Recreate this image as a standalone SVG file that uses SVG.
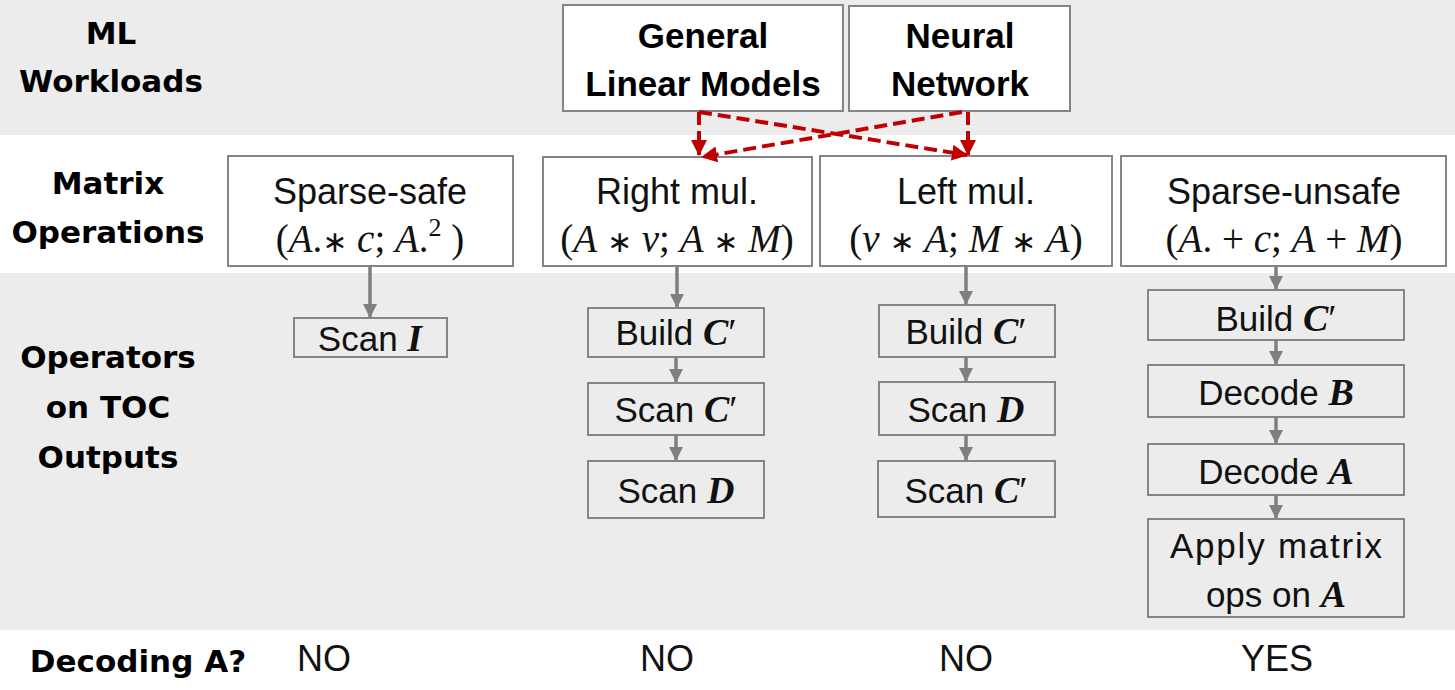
<svg xmlns="http://www.w3.org/2000/svg" width="1455" height="690" viewBox="0 0 1455 690">
<defs>
<marker id="ga" markerUnits="userSpaceOnUse" markerWidth="16" markerHeight="14" refX="13" refY="7" orient="auto"><path d="M0,0 L14,7 L0,14 Z" fill="#7f7f7f"/></marker>
<marker id="ra" markerUnits="userSpaceOnUse" markerWidth="18" markerHeight="18" refX="15" refY="9" orient="auto"><path d="M0,1 L16,9 L0,17 Z" fill="#c00000"/></marker>
</defs>
<style>
.band{fill:#ececec}
.box{fill:#fff;stroke:#858585;stroke-width:2}
.obox{fill:none;stroke:#858585;stroke-width:2}
.lbl{font-family:"DejaVu Sans",sans-serif;font-weight:bold;font-size:31px;fill:#000;text-anchor:middle}
.wl{font-family:"Liberation Sans",Arial,sans-serif;font-weight:bold;font-size:35px;fill:#000;text-anchor:middle}
.t{font-family:"Liberation Sans",Arial,sans-serif;font-size:36px;fill:#111;text-anchor:middle}
.o{font-family:"Liberation Sans",Arial,sans-serif;font-size:35px;fill:#111;text-anchor:middle}
.eq{font-family:"Liberation Serif","Times New Roman",serif;font-size:39px;fill:#111;text-anchor:middle}
.m{font-style:italic}
.mb{font-family:"Liberation Serif","Times New Roman",serif;font-style:italic;font-weight:bold;font-size:38px}
.mr{font-family:"Liberation Serif","Times New Roman",serif;font-size:38px}
.ast{font-family:"DejaVu Sans",sans-serif;font-size:30px}
.ga{stroke:#7f7f7f;stroke-width:3.5;fill:none;marker-end:url(#ga)}
.ra{stroke:#c00000;stroke-width:4;stroke-dasharray:13 6;fill:none;marker-end:url(#ra)}
</style>
<rect class="band" x="0" y="0" width="1455" height="135"/>
<rect class="band" x="0" y="273" width="1455" height="357"/>

<g id="row-labels">
<text class="lbl" x="111" y="44">ML</text>
<text class="lbl" x="111" y="92">Workloads</text>
<text class="lbl" x="108" y="194">Matrix</text>
<text class="lbl" x="108" y="243">Operations</text>
<text class="lbl" x="108" y="368">Operators</text>
<text class="lbl" x="108" y="418">on TOC</text>
<text class="lbl" x="108" y="468">Outputs</text>
<text class="lbl" x="138" y="672">Decoding A?</text>
</g>

<g id="glm">
<rect class="box" x="563" y="5" width="280" height="106"/>
<text class="wl" x="703" y="48">General</text>
<text class="wl" x="703" y="96">Linear Models</text>
</g>
<g id="nn">
<rect class="box" x="849" y="6" width="221" height="105"/>
<text class="wl" x="960" y="48">Neural</text>
<text class="wl" x="960" y="96">Network</text>
</g>

<g id="sparse-safe">
<rect class="box" x="228" y="156" width="285" height="110"/>
<text class="t" x="370" y="204">Sparse-safe</text>
<text class="eq" x="370" y="252">(<tspan class="m">A</tspan>.<tspan class="ast">∗</tspan> <tspan class="m">c</tspan>; <tspan class="m">A</tspan>.<tspan font-size="26" dy="-16">2</tspan><tspan dy="16"> )</tspan></text>
</g>
<g id="right-mul">
<rect class="box" x="543" y="157" width="269" height="109"/>
<text class="t" x="677" y="204">Right mul.</text>
<text class="eq" x="677" y="252">(<tspan class="m">A</tspan> <tspan class="ast">∗</tspan> <tspan class="m">v</tspan>; <tspan class="m">A</tspan> <tspan class="ast">∗</tspan> <tspan class="m">M</tspan>)</text>
</g>
<g id="left-mul">
<rect class="box" x="820" y="156" width="292" height="110"/>
<text class="t" x="966" y="204">Left mul.</text>
<text class="eq" x="966" y="252">(<tspan class="m">v</tspan> <tspan class="ast">∗</tspan> <tspan class="m">A</tspan>;  <tspan class="m">M</tspan> <tspan class="ast">∗</tspan> <tspan class="m">A</tspan>)</text>
</g>
<g id="sparse-unsafe">
<rect class="box" x="1121" y="156" width="325" height="110"/>
<text class="t" x="1284" y="204">Sparse-unsafe</text>
<text class="eq" x="1284" y="252">(<tspan class="m">A</tspan>. + <tspan class="m">c</tspan>;  <tspan class="m">A</tspan> + <tspan class="m">M</tspan>)</text>
</g>

<g id="scan-i">
<rect class="obox" x="294" y="318" width="153" height="39"/>
<text class="o" x="370" y="351">Scan <tspan class="mb">I</tspan></text>
</g>

<g id="r-build-c">
<rect class="obox" x="588" y="308" width="176" height="49"/>
<text class="o" x="676" y="345">Build <tspan class="mb">C</tspan><tspan class="mr">′</tspan></text>
</g>
<g id="r-scan-c">
<rect class="obox" x="588" y="383" width="176" height="52"/>
<text class="o" x="676" y="422">Scan <tspan class="mb">C</tspan><tspan class="mr">′</tspan></text>
</g>
<g id="r-scan-d">
<rect class="obox" x="588" y="461" width="176" height="57"/>
<text class="o" x="676" y="503">Scan <tspan class="mb">D</tspan></text>
</g>

<g id="l-build-c">
<rect class="obox" x="879" y="305" width="176" height="52"/>
<text class="o" x="966" y="344">Build <tspan class="mb">C</tspan><tspan class="mr">′</tspan></text>
</g>
<g id="l-scan-d">
<rect class="obox" x="879" y="382" width="176" height="53"/>
<text class="o" x="966" y="422">Scan <tspan class="mb">D</tspan></text>
</g>
<g id="l-scan-c">
<rect class="obox" x="878" y="461" width="177" height="56"/>
<text class="o" x="966" y="503">Scan <tspan class="mb">C</tspan><tspan class="mr">′</tspan></text>
</g>

<g id="u-build-c">
<rect class="obox" x="1148" y="290" width="256" height="50"/>
<text class="o" x="1276" y="331">Build <tspan class="mb">C</tspan><tspan class="mr">′</tspan></text>
</g>
<g id="u-decode-b">
<rect class="obox" x="1148" y="365" width="256" height="52"/>
<text class="o" x="1276" y="405">Decode <tspan class="mb">B</tspan></text>
</g>
<g id="u-decode-a">
<rect class="obox" x="1148" y="444" width="256" height="51"/>
<text class="o" x="1276" y="484">Decode <tspan class="mb">A</tspan></text>
</g>
<g id="u-apply">
<rect class="obox" x="1148" y="519" width="256" height="98"/>
<text class="o" x="1276" y="558" textLength="212" lengthAdjust="spacing">Apply matrix</text>
<text class="o" x="1276" y="607">ops on <tspan class="mb">A</tspan></text>
</g>

<g id="decoding-answers">
<text class="t" x="324" y="671" fill="#000">NO</text>
<text class="t" x="667" y="671" fill="#000">NO</text>
<text class="t" x="966" y="671" fill="#000">NO</text>
<text class="t" x="1277" y="671" fill="#000">YES</text>
</g>

<g id="connectors">
<path class="ra" d="M699,112 L699,155"/>
<path class="ra" d="M699,112 L967,155"/>
<path class="ra" d="M968,112 L968,155"/>
<path class="ra" d="M962,112 L702,157"/>
<path class="ga" d="M370,266 L370,317"/>
<path class="ga" d="M677,266 L677,307"/>
<path class="ga" d="M676,357 L676,382"/>
<path class="ga" d="M676,435 L676,460"/>
<path class="ga" d="M966,266 L966,304"/>
<path class="ga" d="M966,357 L966,381"/>
<path class="ga" d="M966,435 L966,460"/>
<path class="ga" d="M1276,266 L1276,289"/>
<path class="ga" d="M1276,340 L1276,364"/>
<path class="ga" d="M1276,417 L1276,443"/>
<path class="ga" d="M1276,495 L1276,518"/>
</g>
</svg>
